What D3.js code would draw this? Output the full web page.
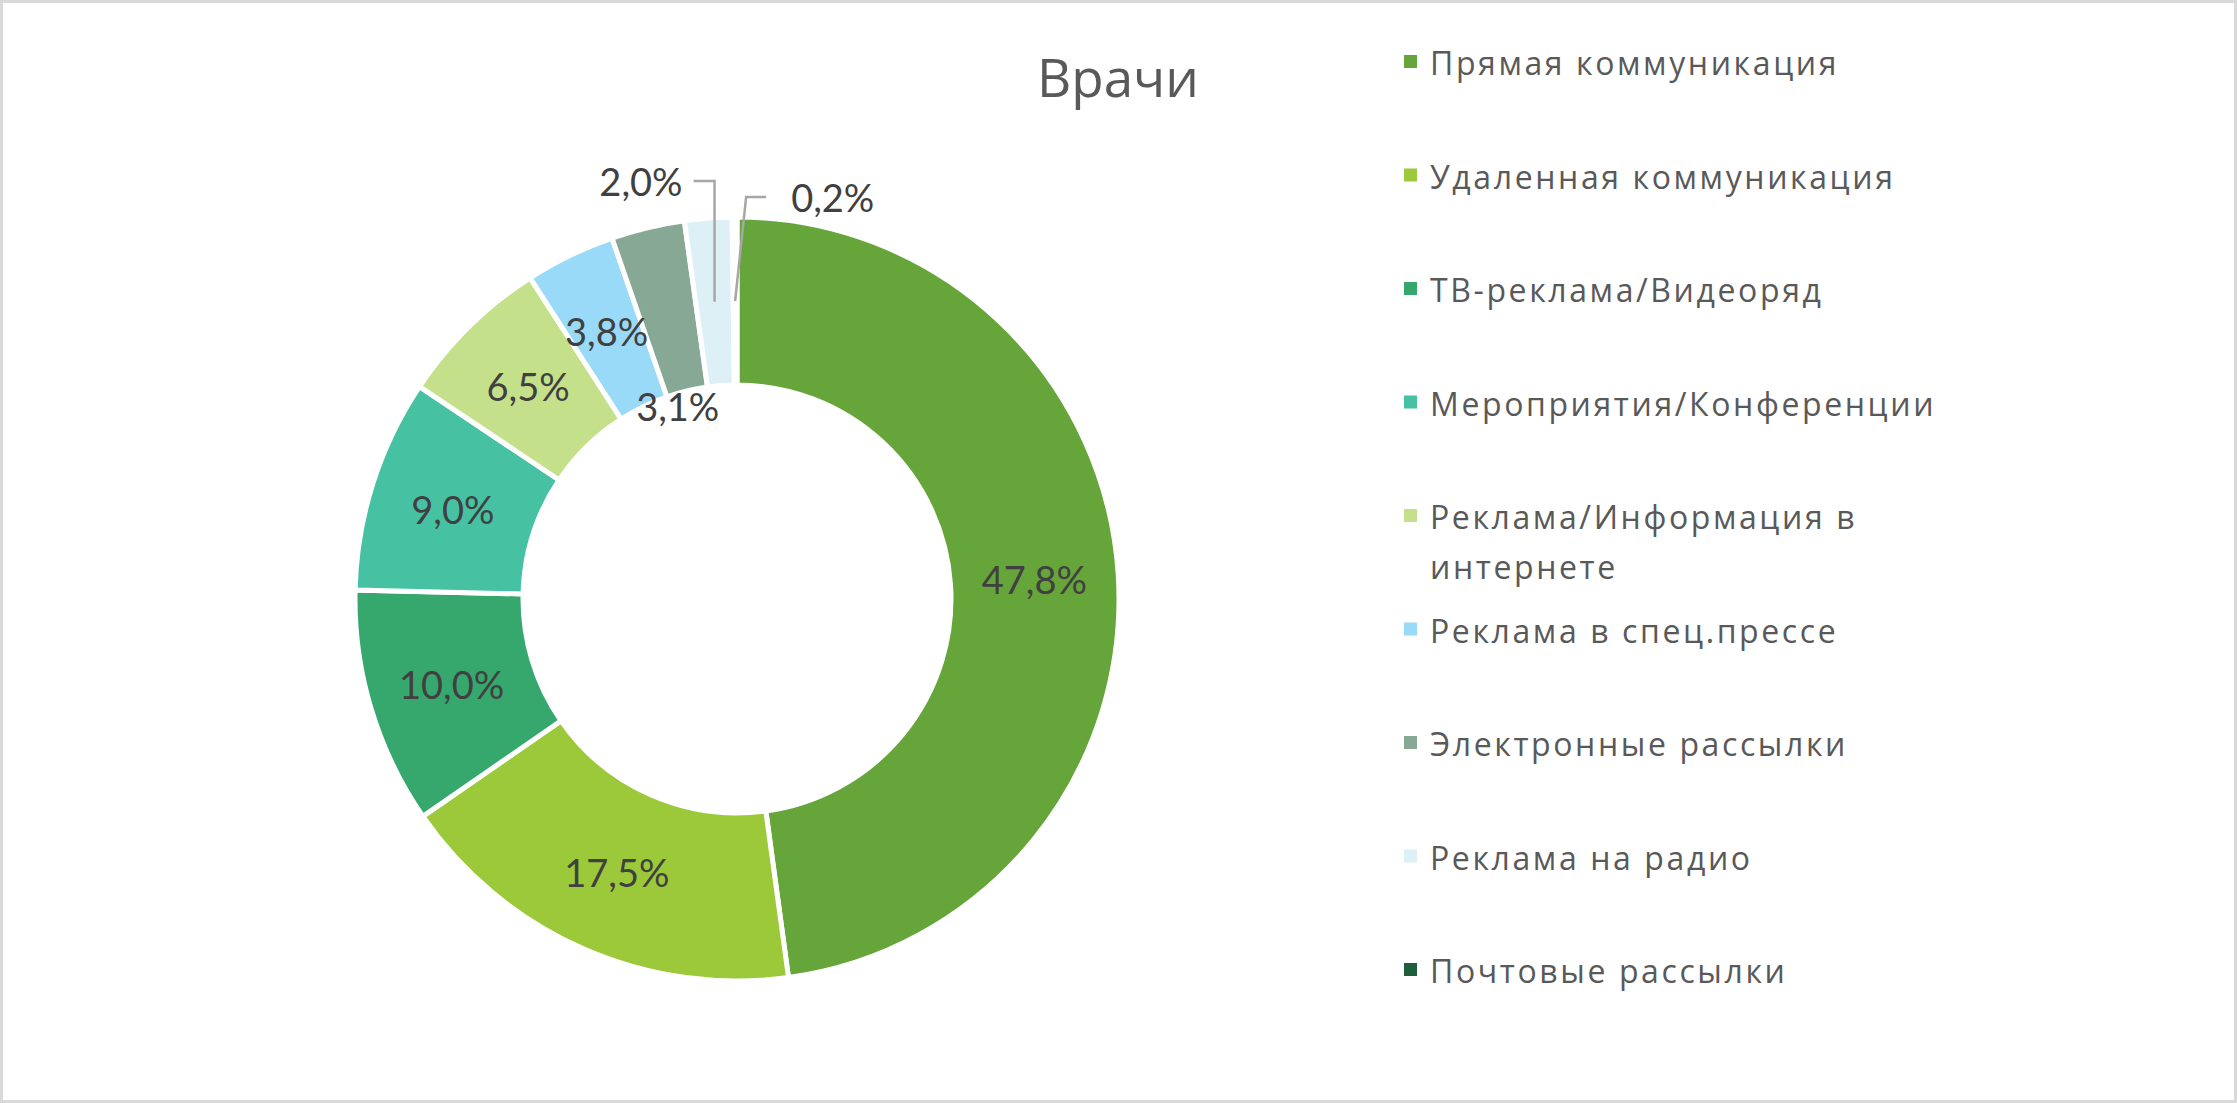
<!DOCTYPE html>
<html><head><meta charset="utf-8">
<script src="https://cdn.jsdelivr.net/npm/d3@7"></script>
<style>
html,body{margin:0;padding:0;background:#fff;}
</style></head>
<body>
<svg id="chart" width="2237" height="1103"></svg>
<script>
const title = "Врачи";
const categories = [
  "Прямая коммуникация",
  "Удаленная коммуникация",
  "ТВ-реклама/Видеоряд",
  "Мероприятия/Конференции",
  "Реклама/Информация в интернете",
  "Реклама в спец.прессе",
  "Электронные рассылки",
  "Реклама на радио",
  "Почтовые рассылки"
];
const values = [47.8, 17.5, 10.0, 9.0, 6.5, 3.8, 3.1, 2.0, 0.2];
const labels = ["47,8%", "17,5%", "10,0%", "9,0%", "6,5%", "3,8%", "3,1%", "2,0%", "0,2%"];
const colors = ["#65a539", "#9bc93a", "#36a86e", "#46c2a3", "#c4e08a", "#99daf8", "#87a895", "#dcf0f6", "#1e5e3a"];
const legendLines = [
  ["Прямая коммуникация"],
  ["Удаленная коммуникация"],
  ["ТВ-реклама/Видеоряд"],
  ["Мероприятия/Конференции"],
  ["Реклама/Информация в", "интернете"],
  ["Реклама в спец.прессе"],
  ["Электронные рассылки"],
  ["Реклама на радио"],
  ["Почтовые рассылки"]
];

const W = 2237, H = 1103;
const svg = d3.select("#chart");

svg.append("rect").attr("x", 1.5).attr("y", 1.5).attr("width", W - 3).attr("height", H - 3)
  .attr("fill", "#fff").attr("stroke", "#d9d9d9").attr("stroke-width", 3);

svg.append("text").attr("x", 1118).attr("y", 97).attr("text-anchor", "middle")
  .attr("font-family", "'Open Sans', sans-serif").attr("font-size", 53)
  .attr("fill", "#595959").text(title);

const cx = 737, cy = 599, R = 382, r0 = 214;
const data = categories.map((c, i) => ({name: c, value: values[i], label: labels[i], color: colors[i]}));
const pie = d3.pie().value(d => d.value).sort(null);
const arcs = pie(data);
const arc = d3.arc().innerRadius(r0).outerRadius(R);

const g = svg.append("g").attr("transform", `translate(${cx},${cy})`);
g.selectAll("path.slice").data(arcs).join("path").attr("class", "slice")
  .attr("d", arc).attr("fill", d => d.data.color)
  .attr("stroke", "#fff").attr("stroke-width", 5).attr("stroke-linejoin", "miter");

// label layout: inside labels at centroid, small slices get callouts
const lblFont = "Lato, 'Open Sans', sans-serif";
const lblSize = 38;
const outside = {
  7: {elbowY: -418, elbowDx: 0, endDx: -21, textDx: -11, anchor: "end"},
  8: {elbowY: -402, elbowDx: 11, endDx: 20, textDx: 25, anchor: "start"}
};
arcs.forEach((a, i) => {
  const [x, y] = arc.centroid(a);
  if (outside[i]) {
    const o = outside[i];
    const ex = x + o.elbowDx, ey = o.elbowY;
    g.append("polyline")
      .attr("points", `${x},${y} ${ex},${ey} ${ex + o.endDx},${ey}`)
      .attr("fill", "none").attr("stroke", "#a6a6a6").attr("stroke-width", 2.5);
    g.append("text").attr("x", ex + o.endDx + o.textDx).attr("y", ey)
      .attr("text-anchor", o.anchor).attr("dominant-baseline", "central")
      .attr("font-family", lblFont).attr("font-size", lblSize).attr("fill", "#404040")
      .text(a.data.label);
  } else {
    let px = x, py = y;
    if (i === 6) { // pushed inward to avoid overlap
      const ang = (a.startAngle + a.endAngle) / 2;
      const rr = 198;
      px = rr * Math.sin(ang) - 13; py = -rr * Math.cos(ang);
    }
    g.append("text").attr("x", px).attr("y", py)
      .attr("text-anchor", "middle").attr("dominant-baseline", "central")
      .attr("font-family", lblFont).attr("font-size", lblSize).attr("fill", "#404040")
      .text(a.data.label);
  }
});

// legend
const lg = svg.append("g");
const ly = d3.scaleLinear().domain([0, 1]).range([75, 188.5]);
legendLines.forEach((lines, i) => {
  const by = ly(i);
  lg.append("rect").attr("x", 1404).attr("y", by - 20).attr("width", 13).attr("height", 13)
    .attr("fill", colors[i]);
  lines.forEach((t, j) => {
    lg.append("text").attr("x", 1430).attr("y", by + j * 50)
      .attr("font-family", "'Open Sans', sans-serif").attr("font-size", 32)
      .attr("letter-spacing", 2.6).attr("fill", "#595959").text(t);
  });
});
</script>
</body></html>
